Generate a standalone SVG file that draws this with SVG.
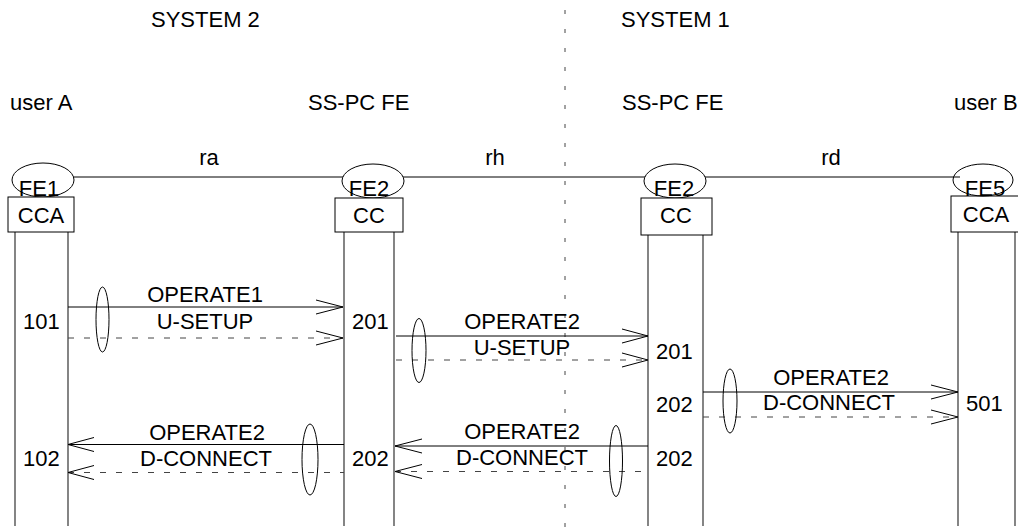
<svg xmlns="http://www.w3.org/2000/svg" width="1018" height="531" viewBox="0 0 1018 531">
<style>
text{font-family:"Liberation Sans",Arial,sans-serif;font-size:22px;fill:#000}
.c{text-anchor:middle}
.ln{stroke:#000;stroke-width:1;fill:none}
.ll{stroke:#333;stroke-width:1.2;fill:none}
.ds{stroke:#444;stroke-width:1;fill:none;stroke-dasharray:6 10}
.ah{stroke:#000;stroke-width:1;fill:none}
.el{stroke:#000;stroke-width:1;fill:#fff}
.eo{stroke:#000;stroke-width:1;fill:none}
.bx{stroke:#000;stroke-width:1;fill:#fff}
</style>
<g id="titles">
<text x="151" y="27">SYSTEM 2</text>
<text x="621" y="27">SYSTEM 1</text>
<text x="10" y="110">user A</text>
<text x="308" y="110">SS-PC FE</text>
<text x="622" y="110">SS-PC FE</text>
<text x="954" y="110">user B</text>
<text class="c" x="209" y="165">ra</text>
<text class="c" x="495" y="165">rh</text>
<text class="c" x="831" y="165">rd</text>
</g>
<line id="divider" x1="565" y1="10" x2="565" y2="531" stroke="#444" stroke-width="1" stroke-dasharray="4 15"/>
<line id="relation" class="ln" x1="60" y1="177" x2="960" y2="177"/>
<g id="nodeA">
<line class="ll" x1="15" y1="232" x2="15" y2="526"/>
<line class="ll" x1="68" y1="232" x2="68" y2="526"/>
<ellipse class="el" cx="43" cy="180" rx="31" ry="17"/>
<rect class="bx" x="8" y="197" width="66" height="35"/>
<text class="c" x="39" y="196">FE1</text>
<text class="c" x="41" y="223">CCA</text>
</g>
<g id="nodeFE2a">
<line class="ll" x1="344" y1="232" x2="344" y2="526"/>
<line class="ll" x1="394" y1="232" x2="394" y2="526"/>
<ellipse class="el" cx="373" cy="181" rx="31" ry="17"/>
<rect class="bx" x="335" y="198" width="68" height="34"/>
<text class="c" x="369" y="196">FE2</text>
<text class="c" x="369" y="223">CC</text>
</g>
<g id="nodeFE2b">
<line class="ll" x1="648" y1="235" x2="648" y2="526"/>
<line class="ll" x1="703" y1="235" x2="703" y2="526"/>
<ellipse class="el" cx="675" cy="181" rx="31" ry="17"/>
<rect class="bx" x="641" y="198" width="71" height="37"/>
<text class="c" x="674" y="196">FE2</text>
<text class="c" x="676" y="223">CC</text>
</g>
<g id="nodeB">
<line class="ll" x1="958" y1="232" x2="958" y2="526"/>
<line class="ll" x1="1015" y1="232" x2="1015" y2="526"/>
<rect class="bx" x="951" y="196" width="70" height="36"/>
<ellipse class="eo" cx="983" cy="180" rx="30" ry="16"/>
<text class="c" x="985" y="196">FE5</text>
<text class="c" x="986" y="222">CCA</text>
</g>
<g id="connectors">
<line class="ln" x1="68" y1="307" x2="343" y2="307"/>
<polyline class="ah" points="316,300 343,307 316,314"/>
<line class="ds" x1="68" y1="338" x2="343" y2="338"/>
<polyline class="ah" points="316,331 343,338 316,345"/>
<ellipse class="eo" cx="102.5" cy="319.5" rx="6.5" ry="32.5"/>
<line class="ln" x1="396" y1="336" x2="648" y2="336"/>
<polyline class="ah" points="622,329 648,336 622,343"/>
<line class="ds" x1="396" y1="360" x2="648" y2="360"/>
<polyline class="ah" points="622,353 648,360 622,367"/>
<ellipse class="eo" cx="419" cy="350.5" rx="7" ry="32"/>
<line class="ln" x1="703" y1="392" x2="958" y2="392"/>
<polyline class="ah" points="931,385 958,392 931,399"/>
<line class="ds" x1="703" y1="417" x2="958" y2="417"/>
<polyline class="ah" points="931,410 958,417 931,424"/>
<ellipse class="eo" cx="730" cy="401" rx="7" ry="32"/>
<line class="ln" x1="68" y1="444.5" x2="344" y2="444.5"/>
<polyline class="ah" points="94,437.5 68,444.5 94,451.5"/>
<line class="ds" x1="68" y1="472.5" x2="344" y2="472.5"/>
<polyline class="ah" points="94,465.5 68,472.5 94,479.5"/>
<ellipse class="eo" cx="310" cy="459.5" rx="8" ry="35.5"/>
<line class="ln" x1="395" y1="446" x2="648" y2="446"/>
<polyline class="ah" points="422,439 395,446 422,453"/>
<line class="ds" x1="395" y1="471.5" x2="648" y2="471.5"/>
<polyline class="ah" points="422,464.5 395,471.5 422,478.5"/>
<ellipse class="eo" cx="616" cy="461" rx="6.5" ry="35.5"/>
</g>
<g id="labels">
<text class="c" x="205" y="302">OPERATE1</text>
<text class="c" x="205" y="329">U-SETUP</text>
<text x="23" y="329">101</text>
<text x="352" y="329">201</text>
<text class="c" x="522" y="329">OPERATE2</text>
<text class="c" x="522" y="355">U-SETUP</text>
<text x="656" y="359">201</text>
<text class="c" x="831" y="385">OPERATE2</text>
<text class="c" x="829" y="410">D-CONNECT</text>
<text x="656" y="412">202</text>
<text x="966" y="411">501</text>
<text class="c" x="207" y="440">OPERATE2</text>
<text class="c" x="206" y="466">D-CONNECT</text>
<text x="23" y="466">102</text>
<text x="352" y="466">202</text>
<text class="c" x="522" y="439">OPERATE2</text>
<text class="c" x="522" y="465">D-CONNECT</text>
<text x="656" y="466">202</text>
</g>
</svg>
